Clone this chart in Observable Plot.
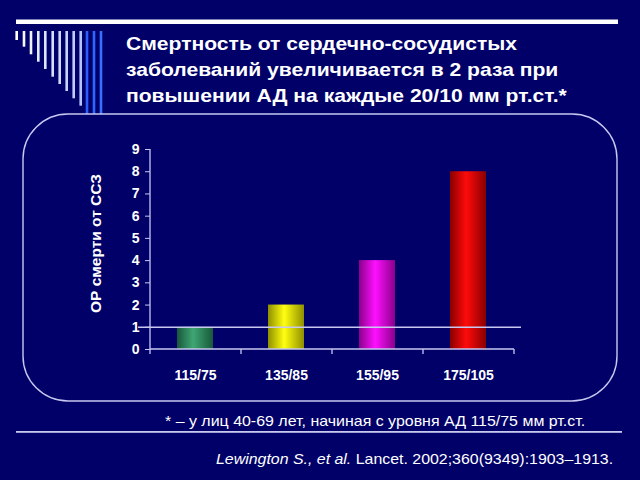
<!DOCTYPE html>
<html>
<head>
<meta charset="utf-8">
<script src="https://cdn.jsdelivr.net/npm/d3@7"></script>
<script src="https://cdn.jsdelivr.net/npm/@observablehq/plot@0.6"></script>
<style>
  html, body { margin: 0; padding: 0; background: #000068; }
  #slide { position: relative; width: 640px; height: 480px; background: #000068; overflow: hidden;
           font-family: "Liberation Sans", Arial, sans-serif; color: #fff; }
  #deco { position: absolute; left: 0; top: 0; }
  #chart { position: absolute; left: 0; top: 0; }
  #title { position: absolute; left: 126px; top: 31px; font-size: 19px; font-weight: bold; line-height: 26px; white-space: nowrap;
           transform: scaleX(1.11); transform-origin: 0 0; }
  #note { position: absolute; left: 165px; top: 413px; font-size: 14.5px; white-space: nowrap;
          transform: scaleX(1.1); transform-origin: 0 0; }
  #cite { position: absolute; left: 216px; top: 451px; font-size: 14.5px; white-space: nowrap;
          transform: scaleX(1.097); transform-origin: 0 0; }
</style>
</head>
<body>
<div id="slide">
  <svg id="deco" width="640" height="480"></svg>
  <div id="chart"></div>
  <div id="title">Смертность от сердечно-сосудистых<br>заболеваний увеличивается в 2 раза при<br>повышении АД на каждые 20/10 мм рт.ст.*</div>
  <div id="note">* – у лиц 40-69 лет, начиная с уровня АД 115/75 мм рт.ст.</div>
  <div id="cite"><i>Lewington S., et al.</i> Lancet. 2002;360(9349):1903–1913.</div>
</div>
<script>
// ---- data ----
const categories = ["115/75", "135/85", "155/95", "175/105"];
const values = [1, 2, 4, 8];
const yTicks = [0, 1, 2, 3, 4, 5, 6, 7, 8, 9];
const referenceValue = [1];
const yLabel = "ОР смерти от ССЗ";

// ---- styles ----
const barEdge = ["#17583a", "#8f8f00", "#8a008a", "#8a0000"];
const barMid  = ["#3fa673", "#ffff10", "#ff10ff", "#ff0a0a"];
const lineColor = "#c8c8f0";

const data = categories.map((c, i) => ({cat: c, v: values[i], g: `url(#bargrad${i})`}));

// ---- decorations ----
const deco = d3.select("#deco");
deco.append("rect").attr("x", 16).attr("y", 19.5).attr("width", 602).attr("height", 4.5).attr("fill", "#ffffff");
const stripeX = [16.7, 24, 31, 38.3, 45.3, 52.7, 59.7, 66.7, 73.7, 80.7, 87, 94, 101];
const stripeBottom = [40, 46.7, 54.3, 61.7, 69, 76.7, 84, 91, 98.3, 105.7, 114, 114, 114];
const stripeColor = ["#ffffff", "#f6f8ff", "#eef2ff", "#e6ecff", "#dee6ff", "#d6e0ff", "#cedaff", "#c6d4ff", "#bccdff", "#b2c6ff", "#2a5cff", "#2f66ff", "#3570ff"];
stripeX.forEach((x, i) => {
  deco.append("rect").attr("x", x - 1.3).attr("y", 31).attr("width", 2.6).attr("height", stripeBottom[i] - 31).attr("fill", stripeColor[i]);
});
deco.append("rect").attr("x", 23).attr("y", 114).attr("width", 594).attr("height", 287).attr("rx", 45).attr("ry", 45)
  .attr("fill", "none").attr("stroke", lineColor).attr("stroke-width", 1.4);
deco.append("rect").attr("x", 16).attr("y", 431).attr("width", 606).attr("height", 1.8).attr("fill", lineColor);

// ---- chart ----
const chart = Plot.plot({
  width: 640,
  height: 480,
  marginLeft: 150,
  marginRight: 126,
  marginTop: 149,
  marginBottom: 131,
  style: {background: "transparent", color: "#ffffff", fontFamily: "'Liberation Sans', Arial, sans-serif"},
  x: {domain: categories, paddingInner: 0.6, paddingOuter: 0.3, label: null},
  y: {domain: [0, 9], label: null},
  color: {type: "identity"},
  marks: [
    () => {
      const svgNS = "http://www.w3.org/2000/svg";
      const defs = document.createElementNS(svgNS, "defs");
      barEdge.forEach((e, i) => {
        const lg = document.createElementNS(svgNS, "linearGradient");
        lg.setAttribute("id", `bargrad${i}`);
        lg.setAttribute("x1", "0"); lg.setAttribute("x2", "1"); lg.setAttribute("y1", "0"); lg.setAttribute("y2", "0");
        [[0, e], [0.45, barMid[i]], [1, e]].forEach(([o, c]) => {
          const s = document.createElementNS(svgNS, "stop");
          s.setAttribute("offset", o); s.setAttribute("stop-color", c);
          lg.appendChild(s);
        });
        defs.appendChild(lg);
      });
      return defs;
    },
    Plot.barY(data, {x: "cat", y: "v", fill: "g"}),
    (index, scales, values, dims) => {
      const svgNS = "http://www.w3.org/2000/svg";
      const g = document.createElementNS(svgNS, "g");
      g.setAttribute("stroke", lineColor);
      g.setAttribute("stroke-width", "1.3");
      const y0 = scales.y(0), yTop = scales.y(yTicks[yTicks.length - 1]);
      const xl = dims.marginLeft, xr = dims.width - dims.marginRight;
      const add = (x1, y1, x2, y2) => {
        const l = document.createElementNS(svgNS, "line");
        l.setAttribute("x1", x1); l.setAttribute("y1", y1); l.setAttribute("x2", x2); l.setAttribute("y2", y2);
        g.appendChild(l);
      };
      add(xl, yTop, xl, y0 + 5);
      add(xl, y0, xr, y0);
      const step = (xr - xl) / categories.length;
      for (let k = 1; k <= categories.length; k++) add(xl + k * step, y0, xl + k * step, y0 + 5);
      return g;
    },
    Plot.ruleY(referenceValue, {stroke: lineColor, strokeWidth: 1.4, insetLeft: -12, insetRight: -7}),
    Plot.axisY({ticks: yTicks, tickSize: 5, tickPadding: 6, fontSize: 14, fontWeight: "bold", stroke: lineColor, fill: "#ffffff", label: null}),
    Plot.axisX({tickSize: 0, tickPadding: 21, fontSize: 14, fontWeight: "bold", fill: "#ffffff", label: null}),
    Plot.text([yLabel], {frameAnchor: "left", textAnchor: "middle", rotate: -90, dx: -54, dy: -6, fontSize: 15.5, fontWeight: "bold", fill: "#ffffff"})
  ]
});
document.getElementById("chart").appendChild(chart);
</script>
</body>
</html>
